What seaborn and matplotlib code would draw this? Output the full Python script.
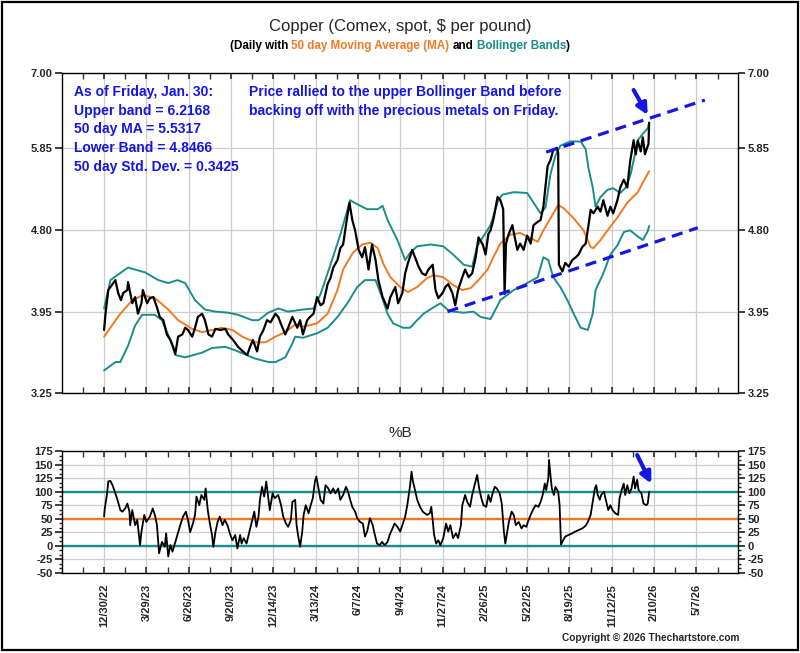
import matplotlib
matplotlib.use('Agg')
import matplotlib.pyplot as plt
import seaborn as sns
import pandas as pd
from matplotlib.ticker import FixedLocator, FormatStrFormatter, MultipleLocator, NullLocator, NullFormatter, AutoMinorLocator
from matplotlib.patches import Rectangle
from matplotlib import font_manager

sns.set_theme(style='white')
plt.rcParams['font.family'] = ['Liberation Sans', 'DejaVu Sans']
plt.rcParams['axes.unicode_minus'] = False

# narrow bold face for tick labels if it is there
names = {f.name for f in font_manager.fontManager.ttflist}
HAS_NARROW = 'Liberation Sans Narrow' in names
TICK_FAMILY = ['Liberation Sans Narrow'] if HAS_NARROW else ['Liberation Sans']
TICK_SIZE = 9.5 if HAS_NARROW else 8
print('narrow font:', HAS_NARROW)

# ---- data (x = trading day index, 0 = 12/30/22; ticks every 60 days) ----
tick_labels = ['12/30/22', '3/29/23', '6/26/23', '9/20/23', '12/14/23', '3/13/24', '6/7/24',
               '9/4/24', '11/27/24', '2/26/25', '5/22/25', '8/19/25', '11/12/25', '2/10/26', '5/7/26']
tick_pos = [0, 60, 120, 180, 240, 300, 360, 420, 480, 540, 600, 660, 720, 780, 840]

price_idx = [0, 2, 6, 11, 16, 20, 24, 27, 33, 34, 40, 44, 48, 53, 55, 61, 65, 70, 75, 79, 84, 89, 94, 98,
             101, 105, 111, 115, 119, 125, 129, 133, 139, 143, 148, 153, 158, 165, 172, 176, 183, 190,
             197, 203, 207, 211, 217, 221, 226, 231, 236, 243, 247, 253, 257, 261, 267, 274, 278, 282,
             288, 292, 297, 302, 307, 311, 317, 321, 325, 331, 335, 339, 345, 348, 352, 356, 361, 366,
             370, 375, 380, 385, 389, 395, 402, 406, 413, 417, 423, 427, 431, 437, 441, 446, 451, 456,
             460, 466, 470, 474, 480, 484, 488, 494, 498, 502, 508, 512, 517, 522, 527, 531, 537, 541,
             545, 548, 552, 558, 562, 566, 568, 570, 573, 579, 586, 590, 595, 600, 605, 609, 615, 619,
             623, 629, 633, 637, 642, 644, 645, 650, 654, 659, 664, 669, 673, 678, 683, 687, 690, 694,
             700, 704, 708, 714, 718, 722, 728, 732, 737, 742, 746, 751, 754, 757, 761, 764, 767, 770,
             772, 773]
price_val = [3.78, 3.93, 4.16, 4.21, 4.26, 4.13, 4.06, 4.13, 4.16, 4.24, 4.03, 4.09, 3.93, 4.03, 4.16,
             4.03, 4.08, 4.09, 3.99, 3.90, 3.87, 3.74, 3.69, 3.63, 3.57, 3.72, 3.74, 3.80, 3.78, 3.72,
             3.80, 3.90, 3.93, 3.87, 3.74, 3.72, 3.79, 3.78, 3.79, 3.74, 3.69, 3.63, 3.59, 3.56, 3.63,
             3.69, 3.59, 3.72, 3.78, 3.87, 3.85, 3.93, 3.90, 3.80, 3.74, 3.80, 3.90, 3.80, 3.87, 3.74,
             3.87, 3.90, 3.93, 4.09, 4.01, 4.03, 4.22, 4.28, 4.39, 4.47, 4.60, 4.64, 4.97, 5.13, 4.92,
             4.80, 4.58, 4.50, 4.61, 4.37, 4.64, 4.47, 4.26, 4.09, 3.98, 4.09, 4.19, 4.03, 4.13, 4.33,
             4.44, 4.58, 4.50, 4.40, 4.33, 4.31, 4.37, 4.42, 4.16, 4.08, 4.13, 4.19, 4.22, 4.13, 4.01,
             4.16, 4.29, 4.37, 4.29, 4.33, 4.50, 4.72, 4.64, 4.53, 4.76, 4.80, 4.92, 5.20, 5.16, 5.05,
             4.12, 4.65, 4.74, 4.86, 4.58, 4.65, 4.58, 4.74, 4.65, 4.86, 4.90, 4.92, 5.08, 5.60, 5.68,
             5.82, 5.85, 5.78, 4.42, 4.35, 4.44, 4.40, 4.47, 4.50, 4.53, 4.61, 4.65, 4.86, 5.04, 5.00,
             5.08, 5.02, 5.16, 4.97, 5.08, 5.00, 5.16, 5.32, 5.42, 5.32, 5.66, 5.96, 5.76, 5.95, 5.80,
             6.00, 5.76, 5.85, 5.90, 6.21]

ma_idx = [0, 23, 40, 55, 72, 91, 105, 125, 139, 153, 167, 182, 196, 214, 229, 243, 257, 271, 282, 302,
          317, 331, 339, 353, 366, 378, 388, 396, 406, 420, 431, 444, 458, 467, 481, 495, 508, 520, 531,
          544, 552, 562, 576, 590, 605, 615, 623, 633, 644, 652, 666, 680, 690, 694, 704, 714, 728, 742,
          757, 765, 773]
ma_val = [3.72, 3.93, 4.06, 4.11, 4.08, 3.97, 3.87, 3.79, 3.76, 3.78, 3.80, 3.78, 3.72, 3.67, 3.67, 3.72,
          3.76, 3.83, 3.81, 3.84, 3.93, 4.16, 4.37, 4.55, 4.64, 4.66, 4.60, 4.43, 4.29, 4.19, 4.14, 4.19,
          4.28, 4.31, 4.29, 4.21, 4.16, 4.18, 4.26, 4.37, 4.50, 4.65, 4.75, 4.77, 4.71, 4.67, 4.80, 4.94,
          5.10, 5.06, 4.94, 4.80, 4.61, 4.60, 4.69, 4.80, 4.95, 5.13, 5.26, 5.40, 5.53]

upper_idx = [0, 9, 30, 34, 58, 77, 91, 104, 115, 129, 143, 158, 176, 190, 210, 219, 233, 247, 261, 282,
             297, 307, 321, 335, 349, 359, 373, 388, 395, 402, 416, 427, 434, 444, 463, 481, 495, 510,
             522, 529, 537, 548, 559, 565, 581, 600, 609, 619, 626, 633, 640, 647, 661, 676, 683, 687,
             693, 697, 704, 714, 722, 732, 740, 747, 751, 757, 764, 771, 773]
upper_val = [3.98, 4.26, 4.37, 4.39, 4.34, 4.26, 4.23, 4.26, 4.23, 4.06, 3.97, 3.95, 3.94, 3.92, 3.87,
             3.87, 3.94, 3.98, 3.95, 3.97, 3.98, 4.12, 4.42, 4.75, 5.16, 5.11, 5.05, 5.05, 5.09, 4.92,
             4.69, 4.47, 4.55, 4.62, 4.64, 4.62, 4.53, 4.42, 4.40, 4.62, 4.72, 4.86, 5.16, 5.23, 5.26,
             5.25, 5.13, 5.00, 5.07, 5.49, 5.74, 5.88, 5.94, 5.94, 5.83, 5.57, 5.32, 5.08, 5.20, 5.29,
             5.31, 5.25, 5.32, 5.50, 5.68, 5.96, 6.05, 6.13, 6.22]

lower_idx = [0, 16, 23, 34, 44, 54, 72, 82, 94, 101, 115, 139, 153, 172, 186, 214, 233, 243, 257, 267,
             271, 282, 302, 317, 331, 345, 359, 370, 385, 392, 402, 410, 424, 434, 444, 453, 467, 477,
             487, 495, 510, 524, 534, 548, 562, 581, 600, 615, 623, 630, 637, 647, 657, 666, 676, 686,
             693, 697, 708, 718, 728, 737, 746, 757, 764, 771, 773]
lower_val = [3.43, 3.50, 3.50, 3.64, 3.82, 3.92, 3.92, 3.87, 3.69, 3.56, 3.54, 3.58, 3.62, 3.63, 3.60,
             3.53, 3.50, 3.50, 3.54, 3.66, 3.72, 3.71, 3.75, 3.80, 3.90, 4.03, 4.19, 4.26, 4.26, 4.13,
             3.93, 3.84, 3.80, 3.80, 3.87, 3.93, 3.99, 4.03, 3.97, 3.95, 3.94, 3.95, 3.90, 3.88, 4.06,
             4.16, 4.23, 4.29, 4.50, 4.47, 4.29, 4.19, 4.06, 3.93, 3.80, 3.78, 3.93, 4.16, 4.33, 4.53,
             4.63, 4.78, 4.80, 4.73, 4.69, 4.79, 4.85]

pctb_idx = [0, 1, 4, 6, 9, 12, 16, 19, 23, 26, 30, 33, 36, 37, 40, 44, 47, 51, 53, 57, 60, 65, 69, 72,
            75, 78, 82, 86, 88, 91, 94, 97, 101, 104, 108, 112, 116, 119, 122, 126, 129, 131, 135, 138,
            142, 144, 147, 150, 153, 155, 158, 161, 164, 168, 171, 175, 179, 182, 186, 189, 193, 195,
            198, 202, 205, 209, 213, 216, 219, 221, 224, 227, 230, 233, 235, 239, 242, 247, 251,
            254, 258, 261, 265, 267, 271, 273, 275, 278, 281, 283, 286, 290, 293, 296, 299, 301, 304,
            307, 311, 314, 318, 321, 325, 328, 332, 335, 339, 343, 346, 349, 352, 356, 359, 363, 367,
            370, 373, 377, 381, 384, 387, 391, 394, 398, 402, 405, 409, 412, 416, 420, 423, 427, 430,
            434, 436, 438, 441, 444, 448, 452, 455, 458, 462, 464, 466, 468, 471, 474, 477, 481, 485,
            488, 491, 495, 499, 502, 506, 508, 512, 515, 519, 522, 526, 529, 532, 535, 538, 542, 545,
            548, 551, 554, 557, 561, 564, 567, 569, 571,
            574, 578, 581, 584, 588, 592, 595, 599, 601, 605, 608, 612, 616, 619, 622, 625, 627, 630,
            631, 633, 635, 638, 640, 644, 646, 648, 651, 654, 659, 664, 668, 673, 678, 683, 686, 690,
            693, 696, 698, 700, 703, 705, 709, 711, 715, 718, 721, 725, 729, 731, 734, 737, 739, 742,
            745, 748, 751, 753, 756, 758, 762, 765, 769, 771, 773]
pctb_val = [54, 69, 94, 119, 120, 112, 97, 85, 66, 63, 69, 78, 63, 38, 66, 38, 48, 1, 26, 57, 44, 54,
            69, 57, 38, -14, 7, -2, 23, -20, 1, -11, 7, 20, 38, 54, 63, 48, 25, 41, 57, 91, 75, 94, 85,
            106, 66, 41, 20, -2, 26, 44, 54, 38, 48, 38, 20, 10, 20, -5, 20, 4, 14, 4, 20, 41, 63, 35,
            54, 85, 109, 91, 119, 88, 66, 97, 88, 94, 75,
            54, 41, 35, 48, 81, 85, 38, 20, -2, 26, 57, 75, 60, 75, 88, 119, 128, 106, 85, 78, 112, 106,
            97, 106, 97, 106, 85, 94, 109, 100, 85, 72, 63, 51, 44, 41, 17, 26, 51, 38, 20, 4, 1, 7, 1,
            7, 20, 32, 41, 35, 26, 38, 54, 75, 112, 137, 119, 103, 85, 72, 63, 60, 57, 60, 72, 48, 20,
            4, 10, 1, 14, 41, 26, 38, 14, 23, 14, 38, 75, 94, 81, 72, 94, 115, 131, 106, 88, 75, 72, 94,
            81, 97, 109, 106, 97, 78, 26, 4, 20,
            44, 63, 57, 38, 44, 32, 38, 35, 44, 57, 66, 75, 72, 81, 94, 115, 103, 125, 159, 131, 106, 94,
            109, 100, 75, 2, 10, 17, 20, 23, 26, 29, 32, 37, 44, 57, 81, 106, 112, 94, 85, 94, 100, 88,
            66, 75, 66, 60, 57, 88, 103, 115, 94, 112, 97, 106, 128, 106, 122, 103, 97, 78, 75, 78, 100]

# hand-drawn trend channel and arrows (data coords)
trend_hi_x, trend_hi_y = [627, 852], [5.79, 6.56]
trend_lo_x, trend_lo_y = [487, 842], [3.95, 4.83]
arrow_top = ((751, 6.72), (771, 6.33))
arrow_bot = ((756, 168), (776, 115))

stats_lines = ['As of Friday, Jan. 30:', 'Upper band = 6.2168', '50 day MA = 5.5317',
               'Lower Band = 4.8466', '50 day Std. Dev. = 0.3425']
note_lines = ['Price rallied to the upper Bollinger Band before',
              'backing off with the precious metals on Friday.']

ORANGE = '#F07A22'
TEAL = '#1A8E8C'
BLUE = '#1515E6'
GRID = '#CDCDCD'

df_price = pd.DataFrame({'idx': price_idx, 'v': price_val})
df_ma = pd.DataFrame({'idx': ma_idx, 'v': ma_val})
df_up = pd.DataFrame({'idx': upper_idx, 'v': upper_val})
df_lo = pd.DataFrame({'idx': lower_idx, 'v': lower_val})
df_b = pd.DataFrame({'idx': pctb_idx, 'v': pctb_val})

fig = plt.figure(figsize=(8, 6.53), dpi=100)
fig.patch.set_facecolor('white')
ax = fig.add_axes([0.0781, 0.3982, 0.8444, 0.4900])
axb = fig.add_axes([0.0781, 0.1230, 0.8444, 0.1860])

# ---- top panel ----
sns.lineplot(data=df_up, x='idx', y='v', ax=ax, color=TEAL, lw=1.4, estimator=None)
sns.lineplot(data=df_lo, x='idx', y='v', ax=ax, color=TEAL, lw=1.4, estimator=None)
sns.lineplot(data=df_ma, x='idx', y='v', ax=ax, color=ORANGE, lw=1.4, estimator=None)
sns.lineplot(data=df_price, x='idx', y='v', ax=ax, color='black', lw=1.6, estimator=None)
ax.plot(trend_hi_x, trend_hi_y, color=BLUE, lw=2.3, ls=(0, (3.5, 2.2)))
ax.plot(trend_lo_x, trend_lo_y, color=BLUE, lw=2.3, ls=(0, (3.5, 2.2)))
ax.annotate('', xy=arrow_top[1], xytext=arrow_top[0],
            arrowprops=dict(arrowstyle='-|>', color=BLUE, lw=3, mutation_scale=16, shrinkA=0, shrinkB=0))

ax.set_yscale('log')
ax.set_ylim(3.25, 7.0)
ax.yaxis.set_major_locator(FixedLocator([3.25, 3.95, 4.80, 5.85, 7.00]))
ax.yaxis.set_major_formatter(FormatStrFormatter('%.2f'))
ax.yaxis.set_minor_locator(NullLocator())
ax.yaxis.set_minor_formatter(NullFormatter())

for a in (ax, axb):
    a.set_xlim(-59, 899)
    a.xaxis.set_major_locator(FixedLocator(tick_pos))
    a.xaxis.set_minor_locator(MultipleLocator(30))
    a.set_xlabel('')
    a.set_ylabel('')
    a.grid(True, which='major', color=GRID, lw=0.9)
    a.set_axisbelow(True)
    for s in a.spines.values():
        s.set_color('black')
        s.set_linewidth(1.0)
    a.tick_params(axis='x', which='both', direction='in', top=True, bottom=True, length=4,
                  color='#333333')
    a.tick_params(axis='y', which='major', direction='out', left=True, right=True,
                  labelleft=True, labelright=True, length=5, labelsize=TICK_SIZE, pad=2)

ax.tick_params(axis='x', labelbottom=False)

for i, line in enumerate(stats_lines):
    ax.text(0.017, 1 - (92 + 18.7 * i - 73) / 320, line, transform=ax.transAxes, color=BLUE,
            fontsize=10, fontweight='bold', va='center', ha='left')
for i, line in enumerate(note_lines):
    ax.text(0.276, 1 - (92 + 18.7 * i - 73) / 320, line, transform=ax.transAxes, color=BLUE,
            fontsize=10, fontweight='bold', va='center', ha='left')

# ---- %B panel ----
axb.axhline(100, color=TEAL, lw=1.7)
axb.axhline(0, color=TEAL, lw=1.7)
axb.axhline(50, color=ORANGE, lw=1.7)
sns.lineplot(data=df_b, x='idx', y='v', ax=axb, color='black', lw=1.3, estimator=None)
axb.annotate('', xy=arrow_bot[1], xytext=arrow_bot[0],
             arrowprops=dict(arrowstyle='-|>', color=BLUE, lw=3, mutation_scale=16, shrinkA=0, shrinkB=0))
axb.set_ylim(-50, 175)
axb.yaxis.set_major_locator(MultipleLocator(25))
axb.yaxis.set_minor_locator(AutoMinorLocator(3))
axb.tick_params(axis='y', which='minor', direction='out', left=True, right=True, length=2.5)
axb.set_xlabel('')
axb.set_ylabel('')
axb.set_xticks(tick_pos)
axb.set_xticklabels(tick_labels, rotation=90, fontsize=TICK_SIZE)
axb.tick_params(axis='x', which='major', pad=8)

for a in (ax, axb):
    for lab in a.get_yticklabels() + a.get_xticklabels():
        lab.set_fontweight('bold')
        lab.set_family(TICK_FAMILY)

# ---- titles ----
fig.text(0.5, 0.9587, 'Copper (Comex, spot, $ per pound)', ha='center', va='center', fontsize=12)
fig.text(0.5, 0.3375, '%B', ha='center', va='center', fontsize=11)
fig.text(0.925, 0.023, 'Copyright \u00a9 2026 Thechartstore.com', ha='right', va='center',
         fontsize=7.3, fontweight='bold')

pieces = [('(Daily with', 'black', True), ('50 day Moving Average (MA)', ORANGE, True),
          ('and', 'black', True), ('Bollinger Bands', TEAL, False), (')', 'black', False)]
renderer = fig.canvas.get_renderer()
sub_y = 0.9296
sub_size = 8.4
probe = fig.text(0, 0, 'a a', fontsize=sub_size, fontweight='bold')
probe2 = fig.text(0, 0, 'aa', fontsize=sub_size, fontweight='bold')
space_w = probe.get_window_extent(renderer).width - probe2.get_window_extent(renderer).width
probe.remove()
probe2.remove()
texts, widths = [], []
for s, c, gap in pieces:
    t = fig.text(0, sub_y, s, color=c, fontsize=sub_size, fontweight='bold', va='center', ha='left')
    texts.append(t)
    widths.append(t.get_window_extent(renderer).width)
total = sum(widths) + space_w * sum(1 for p in pieces if p[2])
W = fig.bbox.width
x = W / 2 - total / 2
for t, w, p in zip(texts, widths, pieces):
    t.set_x(x / W)
    x += w + (space_w if p[2] else 0)

fig.patches.append(Rectangle((0.002, 0.004), 0.995, 0.993, transform=fig.transFigure,
                             fill=False, edgecolor='black', lw=1.6))

fig.savefig('out.png', dpi=100)
